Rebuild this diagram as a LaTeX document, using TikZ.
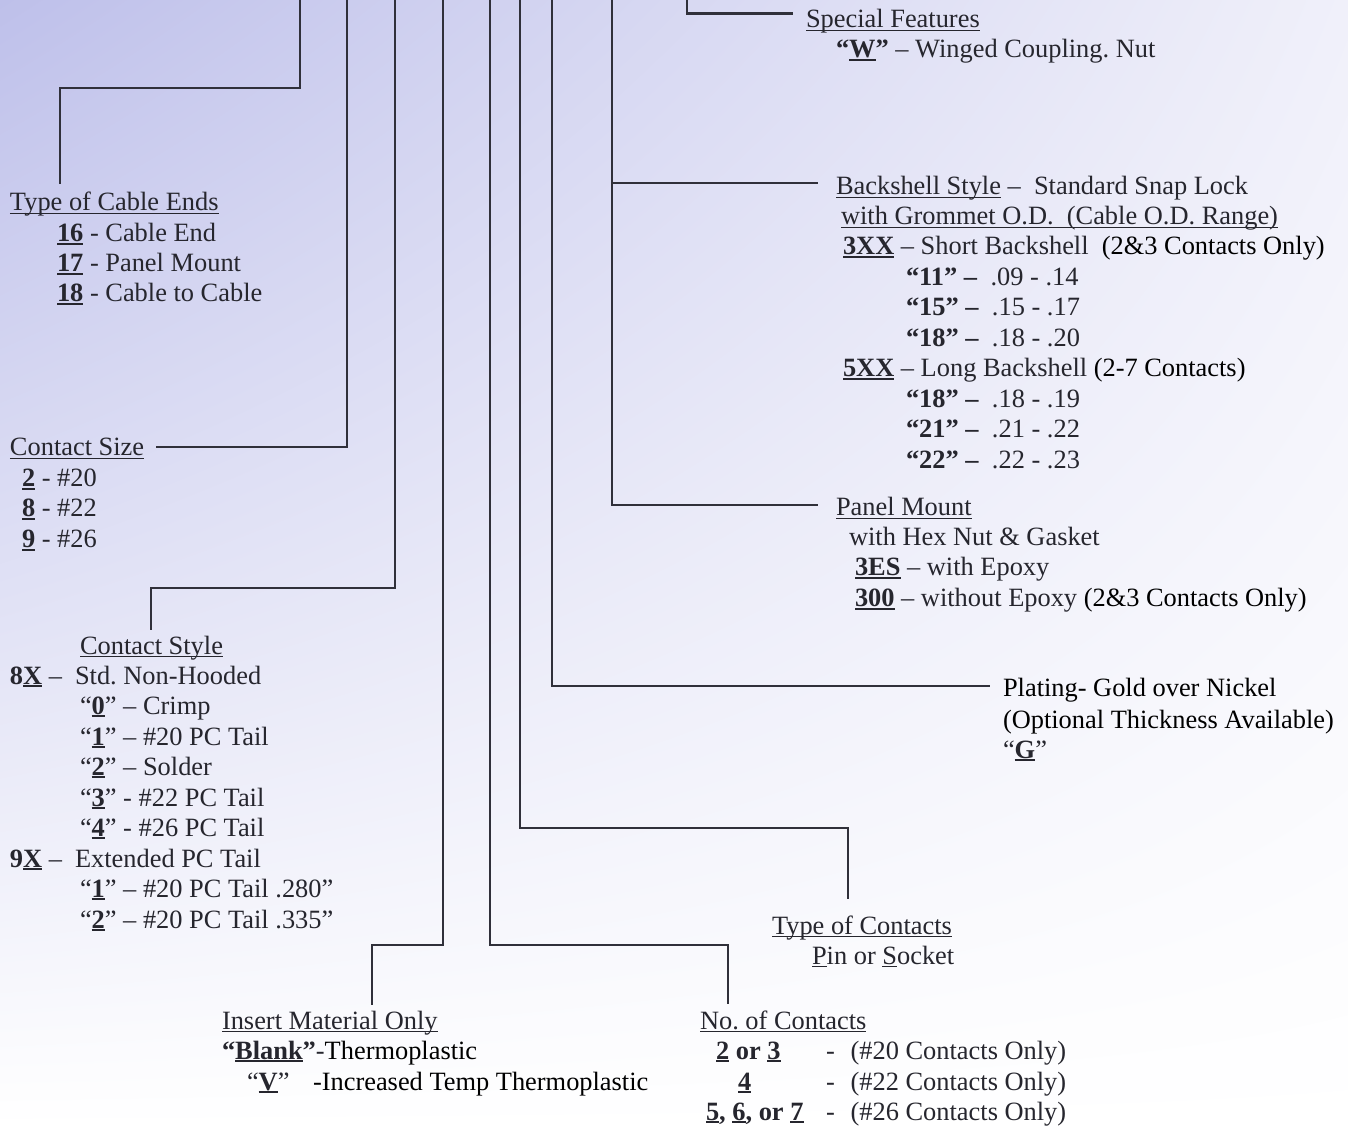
\documentclass[tikz,border=0pt]{standalone}
\usepackage{fontspec}
\setmainfont{Liberation Serif}
\usetikzlibrary{positioning, shadings}

\definecolor{inkgray}{RGB}{38,38,46}
\definecolor{linegray}{RGB}{48,48,58}
\definecolor{bgtop}{RGB}{190,192,234}
\definecolor{bgright}{RGB}{240,240,250}

\newcommand\lblfont{\fontsize{13.2}{15.2}\selectfont\frenchspacing}
\newcommand\ulbox[2][0.6pt]{\setbox0=\hbox{#2}\rlap{\rule[-1.6pt]{\wd0}{#1}}\box0\relax}
\newcommand\bul[1]{\ulbox[1.1pt]{\textbf{#1}}}

\begin{document}
\begin{tikzpicture}[x=0.5pt, y=-0.5pt,
    lbl/.style={anchor=base west, inner sep=0pt, outer sep=0pt, text=inkgray, font=\lblfont},
    lead/.style={draw=linegray, line width=1.3pt}]
    \useasboundingbox (0,0) rectangle (1348,1127);
    \shade[upper left=bgtop, upper right=bgright, lower left=white, lower right=white] (0,0) rectangle (1348,1127);

    % tops of the leads
    \foreach \n/\x in {A/300, B/347, C/395, D/443, E/490, F/520, G/552, H/612, K/687}
        \coordinate (top\n) at (\x,0);

    % type of cable ends
    \node[lbl] (cable) at (10,211) {\ulbox{Type of Cable Ends}};
    \node[lbl] (cable1) at (57,242) {\bul{16} - Cable End};
    \node[lbl] (cable2) at (57,272) {\bul{17} - Panel Mount};
    \node[lbl] (cable3) at (57,302) {\bul{18} - Cable to Cable};

    % contact size
    \node[lbl] (size) at (10,456) {\ulbox{Contact Size}};
    \node[lbl] (size1) at (22,487) {\bul{2} - \#20};
    \node[lbl] (size2) at (22,517) {\bul{8} - \#22};
    \node[lbl] (size3) at (22,548) {\bul{9} - \#26};

    % contact style
    \node[lbl] (style) at (80,654) {\ulbox{Contact Style}};
    \node[lbl] (style1) at (10,684) {\textbf{8}\bul{X} –};
    \node[lbl] (style1b) at (75,684) {Std. Non-Hooded};
    \node[lbl] (style2) at (80,714) {“\bul{0}” – Crimp};
    \node[lbl] (style3) at (80,745) {“\bul{1}” – \#20 PC Tail};
    \node[lbl] (style4) at (80,775) {“\bul{2}” – Solder};
    \node[lbl] (style5) at (80,806) {“\bul{3}” - \#22 PC Tail};
    \node[lbl] (style6) at (80,836) {“\bul{4}” - \#26 PC Tail};
    \node[lbl] (style7) at (10,867) {\textbf{9}\bul{X} –};
    \node[lbl] (style7b) at (75,867) {Extended PC Tail};
    \node[lbl] (style8) at (80,897) {“\bul{1}” – \#20 PC Tail .280”};
    \node[lbl] (style9) at (80,928) {“\bul{2}” – \#20 PC Tail .335”};

    % insert material
    \node[lbl] (insert) at (222,1029) {\ulbox{Insert Material Only}};
    \node[lbl] (insert1) at (222,1059) {\textbf{“}\bul{Blank}\textbf{”}-{\color{black}Thermoplastic}};
    \node[lbl] (insert2) at (247,1090) {“\bul{V}”};
    \node[lbl] (insert2b) at (313,1090) {\color{black}-Increased Temp Thermoplastic};

    % number of contacts
    \node[lbl] (count) at (700,1029) {\ulbox{No. of Contacts}};
    \node[lbl] (count1) at (716,1059) {\bul{2} \textbf{or} \bul{3}};
    \node[lbl] (count2) at (738,1090) {\bul{4}};
    \node[lbl] (count3) at (706,1120) {\bul{5}\textbf{,} \bul{6}\textbf{, or} \bul{7}};
    \node[lbl] (count1b) at (826,1059) {-\hspace{0.6em}(\#20 Contacts Only)};
    \node[lbl] (count2b) at (826,1090) {-\hspace{0.6em}(\#22 Contacts Only)};
    \node[lbl] (count3b) at (826,1120) {-\hspace{0.6em}(\#26 Contacts Only)};

    % type of contacts
    \node[lbl] (ctype) at (772,934) {\ulbox{Type of Contacts}};
    \node[lbl] (ctype1) at (812,964) {\ulbox{P}in or \ulbox{S}ocket};

    % plating
    \node[lbl, text=black] (plate) at (1003,697) {Plating- Gold over Nickel};
    \node[lbl, text=black] (plate1) at (1003,728) {(Optional Thickness Available)};
    \node[lbl] (plate2) at (1003,758) {“\bul{G}”};

    % panel mount
    \node[lbl] (panel) at (836,516) {\ulbox{Panel Mount}};
    \node[lbl] (panel1) at (849,546) {with Hex Nut \& Gasket};
    \node[lbl] (panel2) at (855,576) {\bul{3ES} – with Epoxy};
    \node[lbl] (panel3) at (855,607) {\bul{300} – without Epoxy {\color{black}(2\&3 Contacts Only)}};

    % backshell style
    \node[lbl] (shell) at (836,195) {\ulbox{Backshell Style} –\ \ Standard Snap Lock};
    \node[lbl] (shell1) at (841,225) {\ulbox{with Grommet O.D.\ \ (Cable O.D. Range)}};
    \node[lbl] (shell2) at (843,255) {\bul{3XX} – Short Backshell\ \ {\color{black}(2\&3 Contacts Only)}};
    \node[lbl] (shell3) at (906,286) {\textbf{“11” –}\ \ .09 - .14};
    \node[lbl] (shell4) at (906,316) {\textbf{“15” –}\ \ .15 - .17};
    \node[lbl] (shell5) at (906,347) {\textbf{“18” –}\ \ .18 - .20};
    \node[lbl] (shell6) at (843,377) {\bul{5XX} – Long Backshell {\color{black}(2-7 Contacts)}};
    \node[lbl] (shell7) at (906,408) {\textbf{“18” –}\ \ .18 - .19};
    \node[lbl] (shell8) at (906,438) {\textbf{“21” –}\ \ .21 - .22};
    \node[lbl] (shell9) at (906,469) {\textbf{“22” –}\ \ .22 - .23};

    % special features
    \node[lbl] (special) at (806,28) {\ulbox{Special Features}};
    \node[lbl] (special1) at (836,58) {\textbf{“\bul{W}”} – Winged Coupling. Nut};

    % leads
    \draw[lead, shorten >=4pt] (topA) |- (60,88) -- (60,0 |- cable.north);
    \draw[lead, shorten >=6pt] (topB) |- ([yshift=1pt]size.east);
    \draw[lead, shorten >=3pt] (topC) |- (151,588) -- (151,0 |- style.north);
    \draw[lead, shorten >=3pt] (topD) |- (372,945) -- (372,0 |- insert.north);
    \draw[lead, shorten >=3pt] (topE) |- (728,945) -- (728,0 |- count.north);
    \draw[lead, shorten >=8pt] (topF) |- (848,828) -- (848,0 |- ctype.north);
    \draw[lead, shorten >=6.5pt] (topG) |- ([yshift=2.3pt]plate.west);
    \draw[lead, shorten >=9pt] (topH) |- ([yshift=2.9pt]shell.west);
    \draw[lead, shorten >=9pt] (topH) |- ([yshift=1.8pt]panel.west);
    \draw[lead, shorten >=6.5pt] (topK) |- ([yshift=4pt]special.west);
\end{tikzpicture}
\end{document}
